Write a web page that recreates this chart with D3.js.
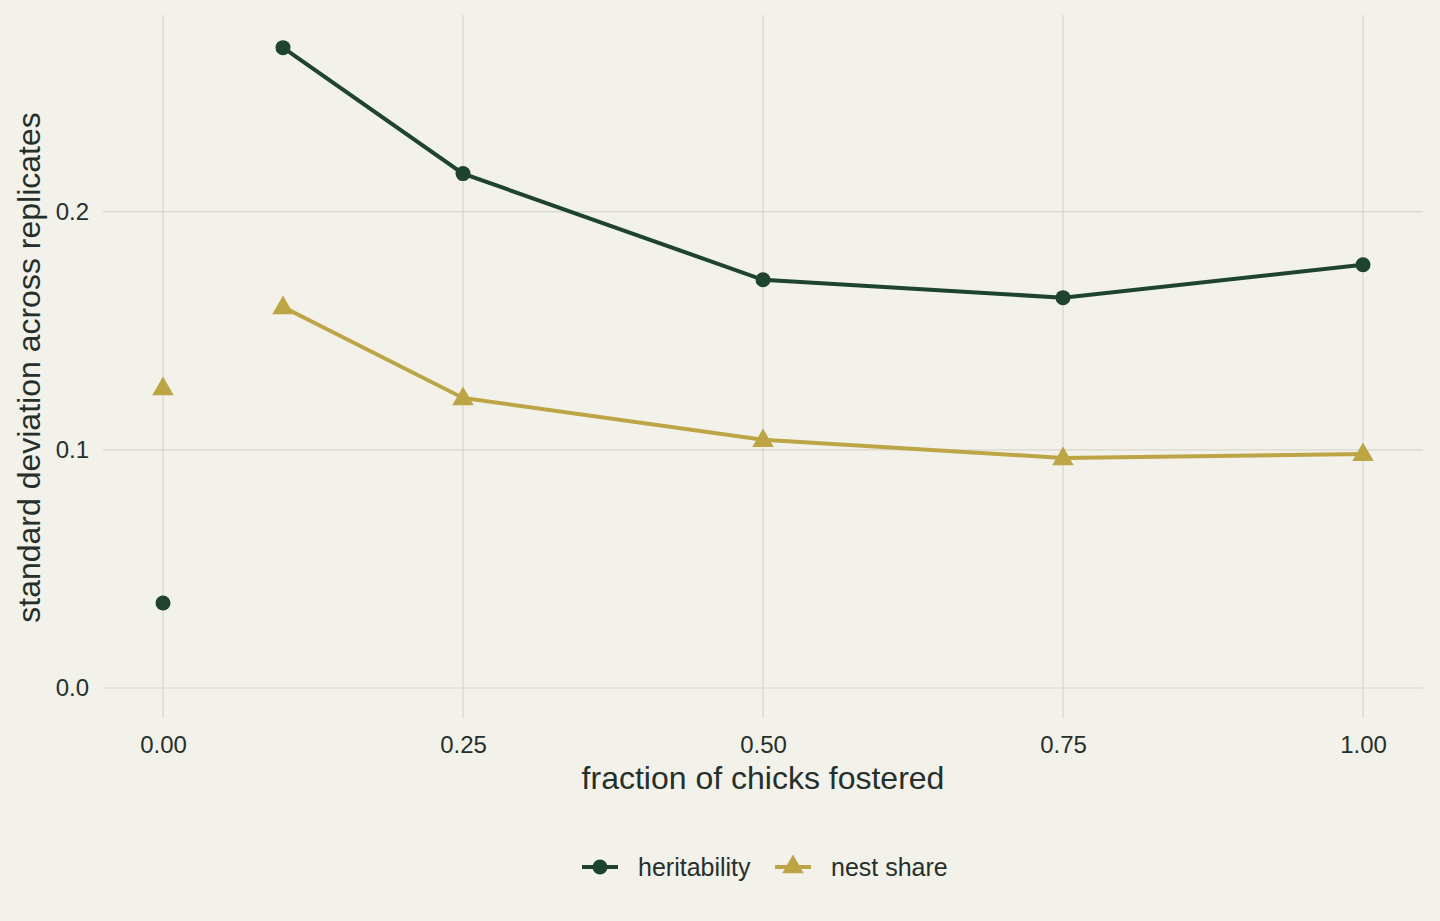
<!DOCTYPE html>
<html>
<head>
<meta charset="utf-8">
<script src="https://cdn.jsdelivr.net/npm/d3@7"></script>
<style>
  body { margin: 0; background: #f2f1ea; }
  text { font-family: "Liberation Sans", Arial, sans-serif; fill: #26302a; }
</style>
</head>
<body>
<div id="container"></div>
<script>
/* CONSTANTS AND GLOBALS */
const width = 1440,
  height = 921,
  margin = {top: 15, bottom: 203, left: 103, right: 17};

// data
const fractions = [0, 0.1, 0.25, 0.5, 0.75, 1];
const heritability = [0.0357, 0.2689, 0.216, 0.1714, 0.1639, 0.1777];
const nestShare = [0.126, 0.160, 0.1218, 0.1042, 0.0966, 0.0983];
const xTicks = [0, 0.25, 0.5, 0.75, 1];
const yTicks = [0, 0.1, 0.2];
const seriesNames = ["heritability", "nest share"];
const seriesColors = ["#1e4330", "#bda444"];

const series = [
  {name: seriesNames[0], values: heritability, color: seriesColors[0], shape: "circle"},
  {name: seriesNames[1], values: nestShare, color: seriesColors[1], shape: "triangle"}
];

/* SCALES */
const xScale = d3.scaleLinear()
  .domain([-0.05, 1.05])
  .range([margin.left, width - margin.right]);

const yScale = d3.scaleLinear()
  .domain([-0.0126, 0.2826])
  .range([height - margin.bottom, margin.top]);

const svg = d3.select("#container")
  .append("svg")
  .attr("width", width)
  .attr("height", height);

svg.append("rect")
  .attr("width", width)
  .attr("height", height)
  .attr("fill", "#f2f1ea");

// grid
svg.append("g")
  .selectAll("line.vgrid")
  .data(xTicks)
  .join("line")
  .attr("class", "vgrid")
  .attr("x1", d => xScale(d)).attr("x2", d => xScale(d))
  .attr("y1", margin.top).attr("y2", height - margin.bottom)
  .attr("stroke", "#d9d7c9")
  .attr("stroke-width", 1.2);

svg.append("g")
  .selectAll("line.hgrid")
  .data(yTicks)
  .join("line")
  .attr("class", "hgrid")
  .attr("x1", margin.left).attr("x2", width - margin.right)
  .attr("y1", d => yScale(d)).attr("y2", d => yScale(d))
  .attr("stroke", "#d9d7c9")
  .attr("stroke-width", 1.2);

// axes (labels only)
const xAxis = d3.axisBottom(xScale)
  .tickValues(xTicks)
  .tickFormat(d3.format(".2f"))
  .tickSize(0)
  .tickPadding(18);

const yAxis = d3.axisLeft(yScale)
  .tickValues(yTicks)
  .tickFormat(d3.format(".1f"))
  .tickSize(0)
  .tickPadding(14);

svg.append("g")
  .attr("transform", `translate(0,${height - margin.bottom})`)
  .call(xAxis)
  .call(g => g.select(".domain").remove())
  .selectAll("text")
  .attr("font-size", 24)
  .attr("fill", "#26302a");

svg.append("g")
  .attr("transform", `translate(${margin.left},0)`)
  .call(yAxis)
  .call(g => g.select(".domain").remove())
  .selectAll("text")
  .attr("font-size", 24)
  .attr("fill", "#26302a");

// axis titles
svg.append("text")
  .attr("x", xScale(0.5))
  .attr("y", 789)
  .attr("text-anchor", "middle")
  .attr("font-size", 32)
  .text("fraction of chicks fostered");

svg.append("text")
  .attr("transform", `translate(40,${(margin.top + height - margin.bottom) / 2 + 1}) rotate(-90)`)
  .attr("text-anchor", "middle")
  .attr("font-size", 32)
  .text("standard deviation across replicates");

// lines (x = 0 is shown as a lone point)
const line = d3.line()
  .x(d => xScale(d.x))
  .y(d => yScale(d.y));

const triangle = d3.symbol().type(d3.symbolTriangle).size(200);

series.forEach(s => {
  const pts = fractions.map((x, i) => ({x: x, y: s.values[i]}));
  svg.append("path")
    .datum(pts.filter(d => d.x > 0))
    .attr("d", line)
    .attr("fill", "none")
    .attr("stroke", s.color)
    .attr("stroke-width", 4);

  if (s.shape === "circle") {
    svg.append("g").selectAll("circle")
      .data(pts)
      .join("circle")
      .attr("cx", d => xScale(d.x))
      .attr("cy", d => yScale(d.y))
      .attr("r", 7.5)
      .attr("fill", s.color);
  } else {
    svg.append("g").selectAll("path")
      .data(pts)
      .join("path")
      .attr("d", triangle)
      .attr("transform", d => `translate(${xScale(d.x)},${yScale(d.y) + 1})`)
      .attr("fill", s.color);
  }
});

// legend
const legend = svg.append("g").attr("transform", "translate(0,867)");
const legendX = [582, 775];
series.forEach((s, i) => {
  const g = legend.append("g").attr("transform", `translate(${legendX[i]},0)`);
  g.append("line")
    .attr("x1", 0).attr("x2", 36)
    .attr("stroke", s.color)
    .attr("stroke-width", 4);
  if (s.shape === "circle") {
    g.append("circle").attr("cx", 18).attr("r", 7.5).attr("fill", s.color);
  } else {
    g.append("path").attr("d", triangle).attr("transform", "translate(18,0)").attr("fill", s.color);
  }
  g.append("text")
    .attr("x", 56)
    .attr("y", 9)
    .attr("font-size", 25)
    .text(s.name);
});
</script>
</body>
</html>
